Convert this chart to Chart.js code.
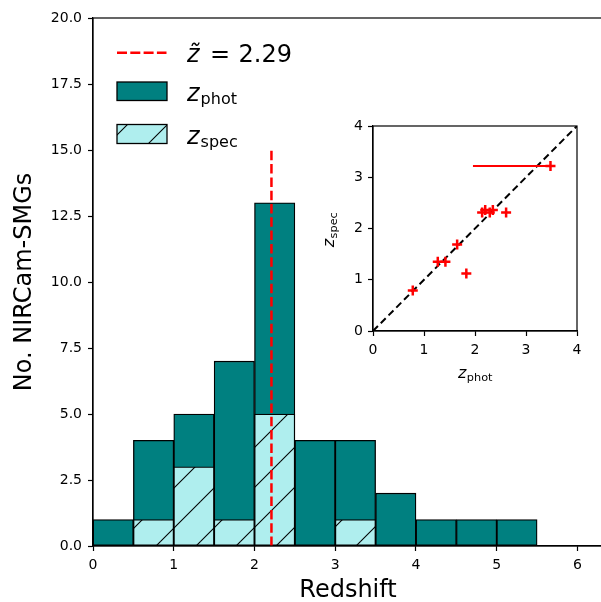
<!DOCTYPE html>
<html><head><meta charset="utf-8">
<script src="https://cdn.jsdelivr.net/npm/chart.js@4.4.0/dist/chart.umd.min.js"></script>
<style>
html,body{margin:0;padding:0;background:#fff;overflow:hidden;}
#wrap{position:relative;width:601px;height:602px;overflow:hidden;background:#fff;}
#main{position:absolute;left:0;top:0;}
#inset{position:absolute;left:320px;top:110px;}
</style></head><body>
<div id="wrap"><canvas id="main" width="610" height="602"></canvas><canvas id="inset" width="270" height="285"></canvas></div>
<script>
// ---------- data ----------
const binCenters = [0.25, 0.75, 1.25, 1.75, 2.25, 2.75, 3.25, 3.75, 4.25, 4.75, 5.25, 5.75];
const photCounts = [1, 4, 5, 7, 13, 4, 4, 2, 1, 1, 1, 0];
const specCounts = [0, 1, 3, 1, 5, 0, 1, 0, 0, 0, 0, 0];
const medianLinePos = 2.21;
const medianLineTop = 15;
const medianLabel = '2.29';
const xMax = 6.316;
const yMax = 20;
const yStep = 2.5;
// inset: photometric vs spectroscopic redshift
const zPhot = [0.78, 1.27, 1.42, 1.65, 1.83, 2.14, 2.20, 2.29, 2.35, 2.61, 3.48];
const zSpec = [0.79, 1.35, 1.35, 1.69, 1.12, 2.31, 2.36, 2.31, 2.36, 2.31, 3.22];
const zPhotLow = [null, null, null, null, null, null, null, null, null, null, 1.96];
const oneToOne = [0, 4];

const FONT = "'DejaVu Sans'";
Chart.defaults.font.family = FONT;
Chart.defaults.color = '#000';

const TEAL = '#008080';
const PALE = '#afeeee';

function makeHatch(off) {
  const c = document.createElement('canvas');
  c.width = 40; c.height = 40;
  const g = c.getContext('2d');
  g.fillStyle = PALE; g.fillRect(0, 0, 40, 40);
  g.strokeStyle = '#000'; g.lineWidth = 1.1;
  for (let k = -2; k <= 3; k++) {
    const s = off + 40 * k;
    g.beginPath(); g.moveTo(-5, s + 5); g.lineTo(s + 5, -5); g.stroke();
  }
  return g.createPattern(c, 'repeat');
}
const mainCtx = document.getElementById('main').getContext('2d');
const hatch = makeHatch(22);

const framePlugin = {
  id: 'frame',
  afterDatasetsDraw(chart) {
    const {ctx, chartArea: a} = chart;
    ctx.save();
    ctx.strokeStyle = '#000'; ctx.lineWidth = 1.2;
    ctx.strokeRect(a.left, a.top, a.right - a.left, a.bottom - a.top);
    ctx.restore();
  }
};

const legendPlugin = {
  id: 'mylegend',
  afterDraw(chart) {
    const ctx = chart.ctx;
    ctx.save();
    // median line handle
    ctx.strokeStyle = 'red'; ctx.lineWidth = 2.5; ctx.setLineDash([10, 3.3]);
    ctx.beginPath(); ctx.moveTo(117, 52.7); ctx.lineTo(166.5, 52.7); ctx.stroke();
    ctx.setLineDash([]);
    ctx.fillStyle = '#000'; ctx.textBaseline = 'alphabetic'; ctx.textAlign = 'left';
    ctx.font = "italic 24px " + FONT;
    ctx.fillText('z\u0303', 187, 61.7);
    ctx.font = "24px " + FONT;
    ctx.fillText('=', 210, 61.7);
    ctx.fillText(medianLabel, 238.5, 61.7);
    // phot handle
    ctx.fillStyle = TEAL; ctx.fillRect(117, 82, 50, 18.5);
    ctx.strokeStyle = '#000'; ctx.lineWidth = 1.3; ctx.strokeRect(117, 82, 50, 18.5);
    ctx.fillStyle = '#000';
    ctx.font = "italic 24px " + FONT;
    ctx.fillText('z', 187, 101);
    let w = ctx.measureText('z').width;
    ctx.font = "16px " + FONT;
    ctx.fillText('phot', 187 + w + 1, 104);
    // spec handle
    const hp = makeHatch(22);
    hp.setTransform(new DOMMatrix().translate(-10, 0));
    ctx.fillStyle = hp; ctx.fillRect(117, 124.5, 50, 19);
    ctx.strokeStyle = '#000'; ctx.lineWidth = 1.3; ctx.strokeRect(117, 124.5, 50, 19);
    ctx.fillStyle = '#000';
    ctx.font = "italic 24px " + FONT;
    ctx.fillText('z', 187, 144);
    ctx.font = "16px " + FONT;
    ctx.fillText('spec', 187 + w + 1, 147);
    ctx.restore();
  }
};

new Chart(mainCtx, {
  type: 'bar',
  data: {
    datasets: [
      { type: 'line', data: [{x: medianLinePos, y: 0}, {x: medianLinePos, y: medianLineTop}],
        borderColor: 'red', borderWidth: 2.5, borderDash: [9.5, 3.8], pointRadius: 0, order: 0 },
      { label: 'zspec', data: binCenters.map((x, i) => ({x, y: specCounts[i]})),
        backgroundColor: hatch, borderColor: '#000', borderWidth: 1.3, borderSkipped: false,
        grouped: false, barPercentage: 1, categoryPercentage: 1, order: 1 },
      { label: 'zphot', data: binCenters.map((x, i) => ({x, y: photCounts[i]})),
        backgroundColor: TEAL, borderColor: '#000', borderWidth: 1.3, borderSkipped: false,
        grouped: false, barPercentage: 1, categoryPercentage: 1, order: 2 }
    ]
  },
  options: {
    responsive: false, animation: false,
    layout: { padding: { top: 18, right: 7, left: 0, bottom: 0 } },
    plugins: { legend: { display: false }, tooltip: { enabled: false } },
    scales: {
      x: {
        type: 'linear', min: 0, max: xMax, offset: false,
        ticks: { stepSize: 1, includeBounds: false, padding: 6, font: { size: 14 }, color: '#000',
                 maxRotation: 0, callback: v => String(v) },
        grid: { drawOnChartArea: false, offset: false, tickLength: 5, tickColor: '#000', tickWidth: 1.2 },
        border: { display: true, color: '#000', width: 1.2 },
        title: { display: true, text: 'Redshift', color: '#000', font: { size: 24, lineHeight: 1 },
                 padding: { top: 0, bottom: -1 } },
        afterFit(s) { s.height = 56; s.paddingLeft = 0; s.paddingRight = 0; }
      },
      y: {
        min: 0, max: yMax,
        ticks: { stepSize: yStep, padding: 6, font: { size: 14 }, color: '#000',
                 callback: v => v.toFixed(1) },
        grid: { drawOnChartArea: false, tickLength: 5, tickColor: '#000', tickWidth: 1.2 },
        border: { display: true, color: '#000', width: 1.2 },
        title: { display: true, text: 'No. NIRCam-SMGs', color: '#000', font: { size: 24, lineHeight: 1 },
                 padding: { top: 13, bottom: 0 } },
        afterFit(s) { s.width = 93; s.paddingTop = 0; s.paddingBottom = 0; }
      }
    }
  },
  plugins: [framePlugin, legendPlugin]
});

// ---------- inset ----------
const insetBg = {
  id: 'insetBg',
  beforeDraw(chart) {
    const {ctx, chartArea: a} = chart;
    ctx.save(); ctx.fillStyle = '#fff';
    ctx.fillRect(a.left, a.top, a.right - a.left, a.bottom - a.top);
    ctx.restore();
  }
};
const insetLabels = {
  id: 'insetLabels',
  afterDraw(chart) {
    const ctx = chart.ctx;
    ctx.save();
    ctx.fillStyle = '#000'; ctx.textBaseline = 'alphabetic'; ctx.textAlign = 'left';
    // x label
    ctx.font = "italic 16px " + FONT;
    const wz = ctx.measureText('z').width;
    ctx.font = "11.3px " + FONT;
    const wp = ctx.measureText('phot').width;
    let x0 = 155 - (wz + wp) / 2;
    ctx.font = "italic 16px " + FONT; ctx.fillText('z', x0, 268);
    ctx.font = "11.3px " + FONT; ctx.fillText('phot', x0 + wz + 0.5, 270.5);
    // y label
    const ws = ctx.measureText('spec').width;
    ctx.translate(14, 120); ctx.rotate(-Math.PI / 2);
    let y0 = -(wz + ws) / 2;
    ctx.font = "italic 16px " + FONT; ctx.fillText('z', y0, 0);
    ctx.font = "11.3px " + FONT; ctx.fillText('spec', y0 + wz + 0.5, 2.5);
    ctx.restore();
  }
};

const errDatasets = [];
zPhotLow.forEach((lo, i) => {
  if (lo !== null) errDatasets.push({ type: 'line', data: [{x: lo, y: zSpec[i]}, {x: zPhot[i], y: zSpec[i]}],
    borderColor: 'red', borderWidth: 2.2, pointRadius: 0, order: 1 });
});

new Chart(document.getElementById('inset').getContext('2d'), {
  type: 'scatter',
  data: {
    datasets: [
      { data: zPhot.map((x, i) => ({x, y: zSpec[i]})), pointStyle: 'cross', pointRadius: 5,
        borderColor: 'red', backgroundColor: 'red', borderWidth: 2.5, order: 0 },
      ...errDatasets,
      { type: 'line', data: [{x: oneToOne[0], y: oneToOne[0]}, {x: oneToOne[1], y: oneToOne[1]}],
        borderColor: '#000', borderWidth: 2, borderDash: [7, 4], pointRadius: 0, order: 2 }
    ]
  },
  options: {
    responsive: false, animation: false,
    layout: { padding: { top: 16, right: 13, left: 0, bottom: 0 } },
    plugins: { legend: { display: false }, tooltip: { enabled: false } },
    scales: {
      x: {
        type: 'linear', min: 0, max: 4,
        ticks: { stepSize: 1, padding: 6, font: { size: 14 }, color: '#000', maxRotation: 0 },
        grid: { drawOnChartArea: false, tickLength: 5, tickColor: '#000', tickWidth: 1.2 },
        border: { display: true, color: '#000', width: 1.2 },
        afterFit(s) { s.height = 64; s.paddingLeft = 0; s.paddingRight = 0; }
      },
      y: {
        type: 'linear', min: 0, max: 4,
        ticks: { stepSize: 1, padding: 5, font: { size: 14 }, color: '#000' },
        grid: { drawOnChartArea: false, tickLength: 5, tickColor: '#000', tickWidth: 1.2 },
        border: { display: true, color: '#000', width: 1.2 },
        afterFit(s) { s.width = 53; s.paddingTop = 0; s.paddingBottom = 0; }
      }
    }
  },
  plugins: [insetBg, framePlugin, insetLabels]
});
</script>
</body></html>
